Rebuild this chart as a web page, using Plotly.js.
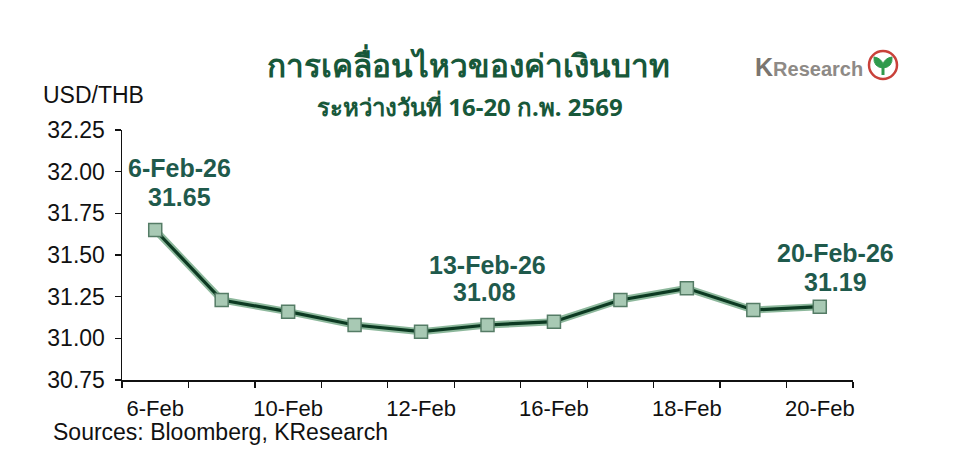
<!DOCTYPE html>
<html>
<head>
<meta charset="utf-8">
<script src="https://cdn.plot.ly/plotly-3.0.1.min.js"></script>
<style>html,body{margin:0;padding:0;background:#fff;}#chart{width:960px;height:473px;}</style>
</head>
<body>
<div id="chart"></div>
<script>
// Data
const dates = ['6-Feb','9-Feb','10-Feb','11-Feb','12-Feb','13-Feb','16-Feb','17-Feb','18-Feb','19-Feb','20-Feb'];
const usdthb = [31.65, 31.23, 31.16, 31.08, 31.04, 31.08, 31.10, 31.23, 31.30, 31.17, 31.19];
const shownLabels = ['6-Feb','10-Feb','12-Feb','16-Feb','18-Feb','20-Feb'];
const calloutDates = ['6-Feb','13-Feb','20-Feb'];
const calloutText = ['6-Feb-26','13-Feb-26','20-Feb-26'];

const idx = dates.map((d, i) => i);
const tickvals = shownLabels.map(l => dates.indexOf(l));

const lineDark = '#0c3a22';
const lineLight = '#8db89c';
const noteColor = '#1f5a4c';
const txtFont = 'Liberation Sans, Arial, sans-serif';

// margins (pixels) -> helpers for decorative positions in paper coords
const M = {l: 122, r: 107, t: 130, b: 93};
const PW = 960 - M.l - M.r, PH = 473 - M.t - M.b;
const px = x => (x - M.l) / PW;
const py = y => (473 - M.b - y) / PH;

const traces = [
  {x: idx, y: usdthb, type: 'scatter', mode: 'lines',
   line: {color: lineLight, width: 7}, hoverinfo: 'skip', showlegend: false},
  {x: idx, y: usdthb, type: 'scatter', mode: 'lines+markers',
   line: {color: lineDark, width: 3.2},
   marker: {symbol: 'square', size: 13, color: '#a8c9b4', line: {color: '#557c66', width: 1.5}},
   showlegend: false}
];

// pixel offsets of callout lines (date line, value line)
const calloutShift = [
  {dx1: 24, dy1: 62, dx2: 24, dy2: 33},
  {dx1: 0, dy1: 60, dx2: -3, dy2: 33},
  {dx1: 16, dy1: 54, dx2: 16, dy2: 25}
];
const annotations = [];
calloutDates.forEach((d, k) => {
  const i = dates.indexOf(d);
  const s = calloutShift[k];
  const f = {family: txtFont, size: 25, color: noteColor};
  annotations.push({x: i, y: usdthb[i], xref: 'x', yref: 'y', showarrow: false,
    xanchor: 'center', yanchor: 'middle', xshift: s.dx1, yshift: s.dy1,
    text: '<b>' + calloutText[k] + '</b>', font: f});
  annotations.push({x: i, y: usdthb[i], xref: 'x', yref: 'y', showarrow: false,
    xanchor: 'center', yanchor: 'middle', xshift: s.dx2, yshift: s.dy2,
    text: '<b>' + usdthb[i].toFixed(2) + '</b>', font: f});
});

annotations.push(
  {xref: 'paper', yref: 'paper', x: px(41), y: py(95), xanchor: 'left', yanchor: 'middle',
   text: 'USD/THB', showarrow: false,
   font: {family: txtFont, size: 23, color: '#111'}},
  {xref: 'paper', yref: 'paper', x: px(51), y: py(432), xanchor: 'left', yanchor: 'middle',
   text: 'Sources: Bloomberg, KResearch', showarrow: false,
   font: {family: txtFont, size: 23, color: '#111'}},
  {xref: 'paper', yref: 'paper', x: px(753), y: py(67), xanchor: 'left', yanchor: 'middle',
   text: '<b><span style="font-size:25px;fill:#7a7570">K</span>Research</b>', showarrow: false,
   font: {family: txtFont, size: 20, color: '#8e8a86'}},
  {xref: 'paper', yref: 'paper', x: px(468), y: py(64), xanchor: 'center', yanchor: 'middle',
   text: '<b>การเคลื่อนไหวของค่าเงินบาท</b>', showarrow: false,
   font: {family: 'Noto Sans, sans-serif', size: 31.5, color: '#18583a'}},
  {xref: 'paper', yref: 'paper', x: px(470), y: py(107), xanchor: 'center', yanchor: 'middle',
   text: '<b>ระหว่างวันที่ 16-20 ก.พ. 2569</b>', showarrow: false,
   font: {family: 'Noto Sans, sans-serif', size: 24, color: '#18583a'}}
);

const layout = {
  width: 960, height: 473,
  margin: M,
  paper_bgcolor: '#fff', plot_bgcolor: '#fff',
  font: {family: txtFont, color: '#111'},
  xaxis: {
    range: [-0.5, dates.length - 0.5],
    tickmode: 'array', tickvals: tickvals, ticktext: shownLabels,
    ticks: '', showgrid: false, zeroline: false,
    showline: true, linecolor: '#111', linewidth: 1.5,
    tickfont: {family: txtFont, size: 22, color: '#111'},
    ticklabelstandoff: 8,
    minor: {tickmode: 'linear', tick0: -0.5, dtick: 1, ticks: 'outside', ticklen: 6, tickcolor: '#111', tickwidth: 1.2, showgrid: false}
  },
  yaxis: {
    range: [30.75, 32.25], dtick: 0.25, tick0: 30.75, tickformat: '.2f',
    ticks: 'outside', ticklen: 6, tickcolor: '#111', tickwidth: 1.2,
    showgrid: false, zeroline: false,
    showline: true, linecolor: '#111', linewidth: 1.5,
    tickfont: {family: txtFont, size: 23, color: '#111'},
    ticklabelstandoff: 5
  },
  annotations: annotations,
  shapes: [
    {type: 'circle', xref: 'paper', yref: 'paper', x0: px(869), x1: px(897), y0: py(79), y1: py(51),
     line: {color: '#c9413a', width: 2.5}, fillcolor: '#fff'},
    {type: 'path', xref: 'paper', yref: 'paper',
     path: 'M ' + px(883) + ',' + py(68) +
           ' Q ' + px(873) + ',' + py(67) + ' ' + px(874) + ',' + py(57) +
           ' Q ' + px(881) + ',' + py(58) + ' ' + px(883) + ',' + py(64) +
           ' Q ' + px(885) + ',' + py(58) + ' ' + px(892) + ',' + py(57) +
           ' Q ' + px(893) + ',' + py(67) + ' ' + px(883) + ',' + py(68) + ' Z',
     fillcolor: '#2f9a4c', line: {color: '#2f9a4c', width: 1}},
    {type: 'line', xref: 'paper', yref: 'paper', x0: px(883), x1: px(883), y0: py(67), y1: py(75),
     line: {color: '#2f9a4c', width: 3}}
  ]
};

Plotly.newPlot('chart', traces, layout, {displayModeBar: false, staticPlot: true});
</script>
</body>
</html>
